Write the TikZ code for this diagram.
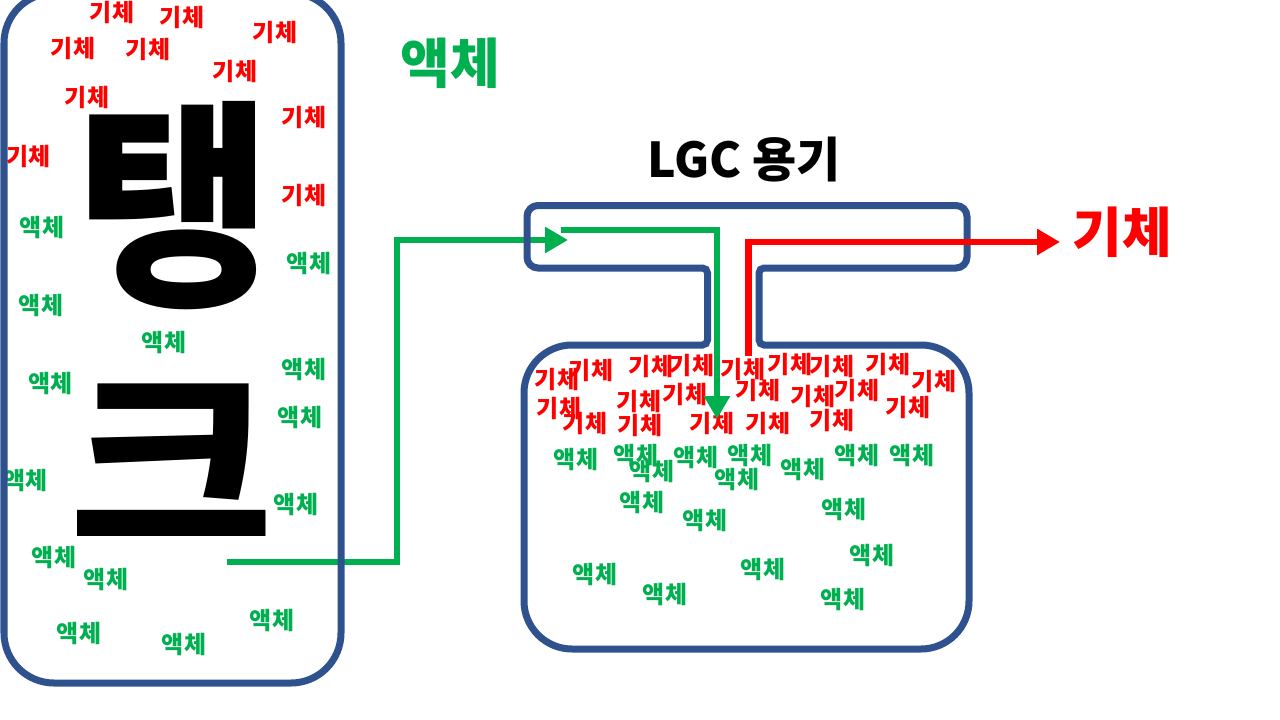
\documentclass[tikz,border=0pt]{standalone}
\usepackage{fontspec}
\newfontfamily\kr{Noto Sans CJK KR}
\usetikzlibrary{arrows.meta}
\definecolor{vblue}{RGB}{47,82,143}
\definecolor{pgreen}{RGB}{0,176,80}
\definecolor{pred}{RGB}{255,0,0}
\tikzset{
  gas/.style={text=pred, font=\kr\bfseries\fontsize{24}{24}\selectfont, inner sep=0pt, anchor=center},
  liq/.style={text=pgreen, font=\kr\bfseries\fontsize{24}{24}\selectfont, inner sep=0pt, anchor=center},
  vessel/.style={draw=vblue, line width=7pt},
  flow/.style={line width=6.5pt, -{Triangle[length=23pt,width=25pt]}},
}
\begin{document}
\begin{tikzpicture}[x=1pt,y=-1pt]
\useasboundingbox (0,0) rectangle (1280,720);
\fill[white] (0,0) rectangle (1280,720);
% tank big letters
\node[inner sep=0pt, xscale=0.96, font=\kr\bfseries\fontsize{222}{222}\selectfont] (tang) at (175,206) {탱};
\node[inner sep=0pt, yscale=0.9, font=\kr\bfseries\fontsize{222}{222}\selectfont] (keu) at (172,461) {크};
% tank gas
\foreach \x/\y [count=\i] in {112/12,182/17,275/32,73/48,148/49,235/71,87/97,304/117,29/156,304/195}
  {\node[gas] (tg\i) at (\x,\y) {기체};}
% tank liquid
\foreach \x/\y [count=\i] in {42/228,309/264,41/306,164/343,51/384,304/370,300/418,26/481,296/505,54/558,106/580,79/634,184/645,272/621}
  {\node[liq] (tl\i) at (\x,\y) {액체};}
% green arrow tank -> LGC
\coordinate (a1s) at (227,562);
\coordinate (a1m) at (397,240);
\coordinate (a1e) at (568,240);
\draw[flow, draw=pgreen] (a1s) -| (a1m) -- (a1e);
% tank outline
\draw[vessel, rounded corners=50pt] (4,-7) rectangle (341,683);
% LGC vessel outline
\draw[vessel] (707.5,345) [rounded corners=5pt] -- (707.5,268) [rounded corners=11pt] -- (527,268) -- (527,205.5) -- (967,205.5) -- (967,268) [rounded corners=5pt] -- (759,268) -- (759,345) [rounded corners=48pt] -- (969,345) -- (969,649) -- (524,649) -- (524,345) [rounded corners=5pt] -- cycle;
% labels
\node[inner sep=0pt, font=\kr\bfseries\fontsize{48}{48}\selectfont] (lgc) at (744,160) {LGC 용기};
\node[inner sep=0pt, text=pgreen, font=\kr\bfseries\fontsize{54}{54}\selectfont] (liqbig) at (450,63) {액체};
\node[inner sep=0pt, text=pred, font=\kr\bfseries\fontsize{54}{54}\selectfont] (gasbig) at (1122,232) {기체};
% vessel gas
\foreach \x/\y [count=\i] in {557/379,591/370,651/366,692/365,743/369,790/364,832/366,888/364,934/381,559/408,585/423,639/401,640/425,685/394,758/390,712/423,768/423,813/396,857/390,832/420,908/407}
  {\node[gas] (vg\i) at (\x,\y) {기체};}
% vessel liquid
\foreach \x/\y [count=\i] in {576/460,636/456,652/472,696/458,750/456,737/480,803/470,857/456,912/456,642/503,705/521,844/510,872/556,595/575,763/570,665/595,843/600}
  {\node[liq] (vl\i) at (\x,\y) {액체};}
% green arrow into vessel
\coordinate (a2s) at (561,230);
\coordinate (a2e) at (717,419);
\draw[flow, draw=pgreen] (a2s) -| (a2e);
% red arrow out
\coordinate (a3s) at (748.5,356);
\coordinate (a3e) at (1060,242);
\draw[flow, draw=pred] (a3s) |- (a3e);
\end{tikzpicture}
\end{document}
